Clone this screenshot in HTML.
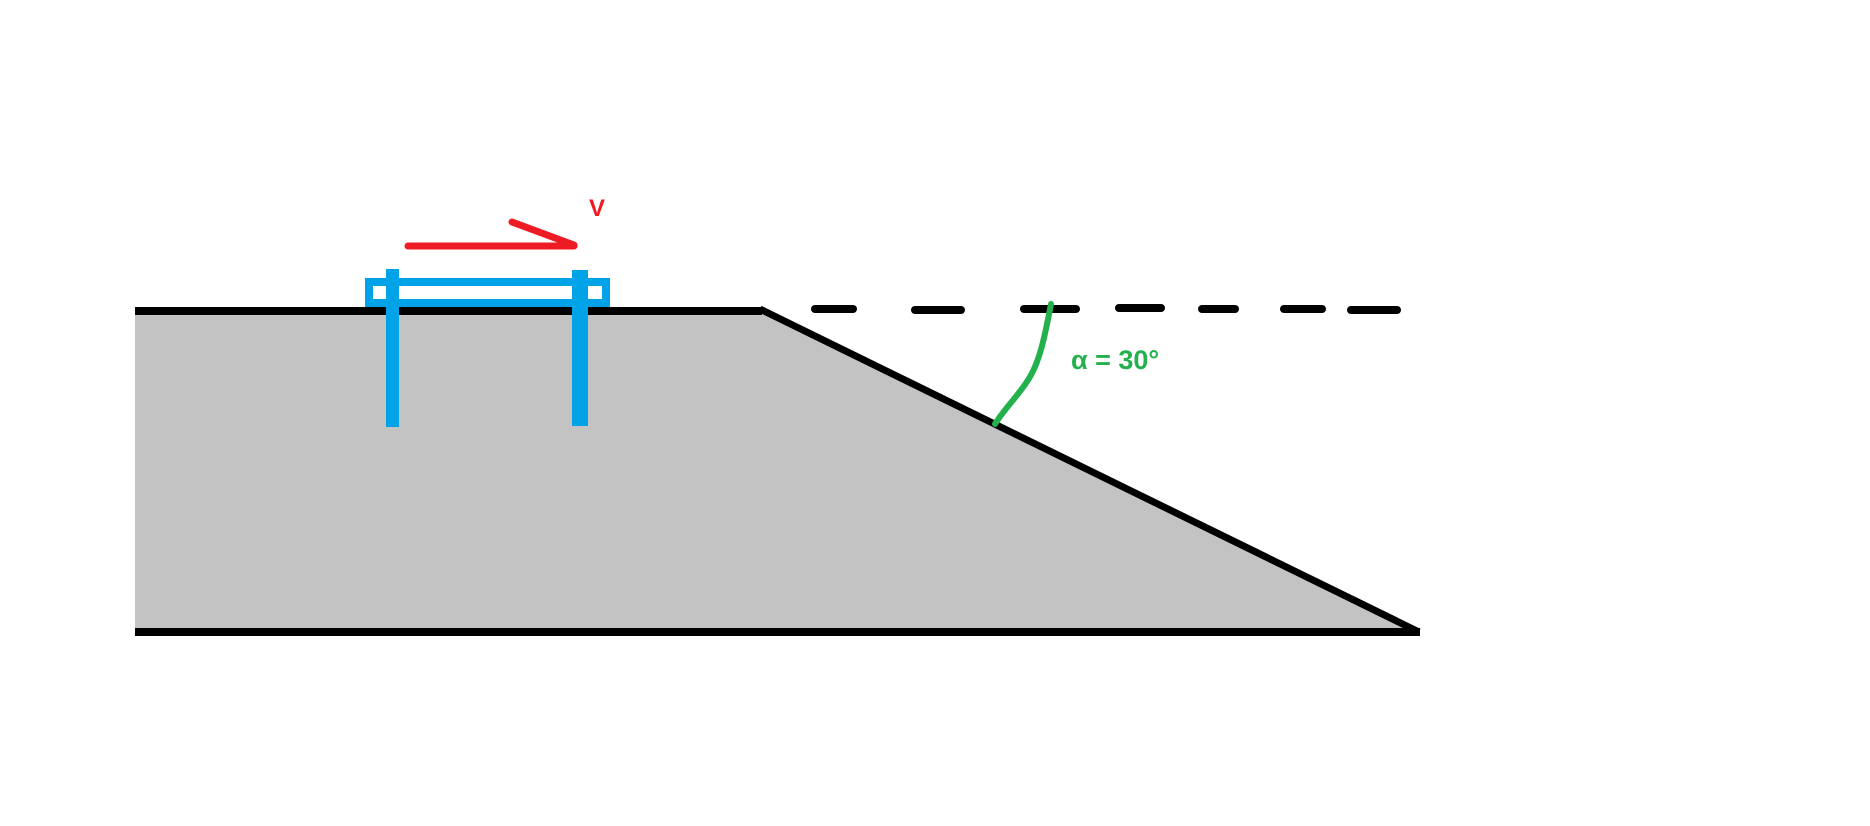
<!DOCTYPE html>
<html><head><style>html,body{margin:0;padding:0;background:#fff;}</style></head>
<body>
<svg width="1870" height="821" xmlns="http://www.w3.org/2000/svg">
<polygon points="135,311 762,311 1419,632 135,632" fill="#c3c3c3"/>
<line x1="135" y1="311" x2="762" y2="311" stroke="#000" stroke-width="8"/>
<line x1="760" y1="309" x2="1419" y2="632" stroke="#000" stroke-width="7"/>
<line x1="135" y1="632" x2="1420" y2="632" stroke="#000" stroke-width="8"/>
<g stroke="#000" stroke-width="8" stroke-linecap="round">
<line x1="815" y1="309" x2="853" y2="309"/>
<line x1="915" y1="310" x2="961" y2="310"/>
<line x1="1024" y1="309" x2="1076" y2="309"/>
<line x1="1119" y1="308" x2="1161" y2="308"/>
<line x1="1202" y1="309" x2="1235" y2="309"/>
<line x1="1284" y1="309" x2="1322" y2="309"/>
<line x1="1351" y1="310" x2="1397" y2="310"/>
</g>
<rect x="369" y="282" width="237" height="21" fill="none" stroke="#00a2e8" stroke-width="8"/>
<rect x="386" y="269" width="13" height="158" fill="#00a2e8"/>
<rect x="572" y="270" width="16" height="156" fill="#00a2e8"/>
<g stroke="#ed1c24" stroke-width="7" stroke-linecap="round">
<line x1="408" y1="246" x2="574" y2="246"/>
<line x1="512" y1="222" x2="574" y2="245"/>
</g>
<text x="589" y="216" font-family="Liberation Sans, sans-serif" font-size="24" font-weight="bold" fill="#ed1c24">V</text>
<path d="M1051,304 C1045,335 1040,362 1028,380 C1018,396 1005,408 995,424" fill="none" stroke="#22b14c" stroke-width="6" stroke-linecap="round"/>
<text x="1071" y="369" font-family="Liberation Sans, DejaVu Sans, sans-serif" font-size="27" font-weight="bold" fill="#22b14c">α = 30°</text>
</svg>
</body></html>
